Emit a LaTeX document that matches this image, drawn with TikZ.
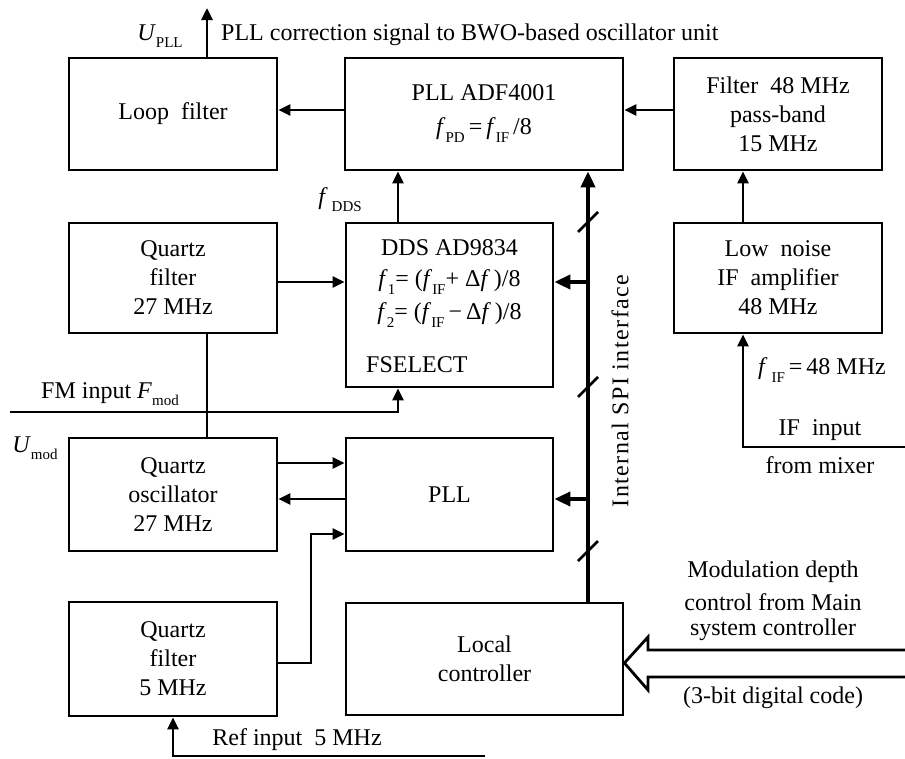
\documentclass[tikz,border=0pt]{standalone}
\usepackage{fontspec}
\setmainfont{Liberation Serif}
\usetikzlibrary{arrows.meta,calc}
\newcommand{\lsub}[1]{\raisebox{-0.3em}{\fontsize{15}{15}\selectfont #1}}
\begin{document}
\begin{tikzpicture}[x=1pt,y=-1pt,
  box/.style={draw, line width=2.8pt, rectangle, inner sep=0pt, align=center, font=\fontsize{24}{29}\selectfont},
  lbl/.style={font=\fontsize{24}{29}\selectfont, inner sep=0pt, align=center},
  conn/.style={line width=2.8pt, -{Triangle[length=12pt,width=11pt]}},
  plain/.style={line width=2.8pt},
  busarr/.style={line width=4.2pt, -{Triangle[length=16pt,width=14pt]}},
  slash/.style={line width=2.6pt}]
\useasboundingbox (0,0) rectangle (905,758);

% boxes
\node[box, minimum width=208pt, minimum height=112pt] (loop) at (173,114) {Loop\ \ filter};
\node[box, minimum width=278pt, minimum height=112pt] (adf) at (484,114) {};
\node[box, minimum width=208pt, minimum height=112pt] (filt) at (778,114) {Filter\ \ 48 MHz\\pass-band\\15 MHz};
\node[box, minimum width=208pt, minimum height=110pt] (qf27) at (173,278) {Quartz\\filter\\27 MHz};
\node[box, minimum width=207pt, minimum height=164pt] (dds) at (449.5,305) {};
\node[box, minimum width=208pt, minimum height=110pt] (lna) at (778,278) {Low\ \ noise\\IF\ \ amplifier\\48 MHz};
\node[box, minimum width=208pt, minimum height=113pt] (osc) at (173,494.5) {Quartz\\oscillator\\27 MHz};
\node[box, minimum width=207pt, minimum height=113pt] (pll) at (449.5,494.5) {PLL};
\node[box, minimum width=208pt, minimum height=114pt] (qf5) at (173,659) {Quartz\\filter\\5 MHz};
\node[box, minimum width=277pt, minimum height=112pt] (lc) at (484.5,659) {Local\\controller};

% texts inside ADF4001 and DDS
\node[lbl] (adft1) at (484,93) {PLL ADF4001};
\node[lbl] (adft2) at (484,130) {\textit{f}\lsub{PD}\,=\,\textit{f}\lsub{IF}\,/8};
\node[lbl] (ddst1) at (449.5,248) {DDS AD9834};
\node[lbl] (ddst2) at (449.5,282) {\textit{f}\lsub{1}= (\textit{f}\lsub{IF}+ Δ\textit{f}\,)/8};
\node[lbl] (ddst3) at (449.5,315) {\textit{f}\lsub{2}= (\textit{f}\lsub{IF}\,−\,Δ\textit{f}\,)/8};
\node[lbl, anchor=west] (ddst4) at (366,365) {FSELECT};

% outside labels
\node[lbl] (upll) at (160,36) {\textit{U}\lsub{PLL}};
\node[lbl, anchor=west] (corr) at (221,35) {PLL correction signal to BWO-based oscillator unit};
\node[lbl] (fdds) at (340,200) {\textit{f}\,\lsub{DDS}};
\node[lbl] (fif) at (822,370) {\textit{f}\,\lsub{IF}\,=\,48 MHz};
\node[lbl] (ifin) at (820,430) {IF\ \ input};
\node[lbl] (frmix) at (820,465) {from mixer};
\node[lbl] (fmin) at (110,394) {FM input \textit{F}\lsub{mod}};
\node[lbl] (umod) at (35,448) {\textit{U}\lsub{mod}};
\node[lbl] (refin) at (297,740) {Ref input\ \ 5 MHz};
\node[lbl] (mod1) at (773,572) {Modulation depth};
\node[lbl] (mod2) at (773,602) {control from Main};
\node[lbl] (mod3) at (773,630) {system controller};
\node[lbl] (mod4) at (773,698) {(3-bit digital code)};
\node[lbl, rotate=90, font=\fontsize{24}{29}\selectfont\addfontfeature{LetterSpace=6}] (spi) at (620,391) {Internal SPI interface};

% helper coordinates
\coordinate (cA) at (398,0);
\coordinate (cB) at (743,0);
\coordinate (cC) at (207,0);
\coordinate (cD) at (173,0);
\coordinate (cBus) at (588,0);
\coordinate (y110) at (0,110);
\coordinate (y282) at (0,282);
\coordinate (y463) at (0,463);
\coordinate (y499) at (0,499);
\coordinate (y534) at (0,534);
\coordinate (y663) at (0,663);
\coordinate (upEnd) at (207,8);
\coordinate (ifEnd) at (905,447);
\coordinate (fmEnd) at (10,412);
\coordinate (refEnd) at (485,756);
\coordinate (qbend) at (311,663);

% connectors
\draw[conn] (adf.west |- y110) -- (loop.east |- y110);
\draw[conn] (filt.west |- y110) -- (adf.east |- y110);
\draw[conn] (dds.north -| cA) -- (adf.south -| cA);
\draw[conn] (lna.north -| cB) -- (filt.south -| cB);
\draw[conn] (ifEnd) -| (lna.south -| cB);
\draw[conn] (qf27.east |- y282) -- (dds.west |- y282);
\draw[plain] (osc.north -| cC) -- (qf27.south -| cC);
\draw[conn] (fmEnd) -| (dds.south -| cA);
\draw[conn] (osc.east |- y463) -- (pll.west |- y463);
\draw[conn] (pll.west |- y499) -- (osc.east |- y499);
\draw[conn] (qf5.east |- y663) -- (qbend) |- (pll.west |- y534);
\draw[conn] (refEnd) -| (qf5.south -| cD);
\draw[conn] (loop.north -| cC) -- (upEnd);

% SPI bus
\draw[busarr] (lc.north -| cBus) -- (adf.south -| cBus);
\draw[busarr] (cBus |- y282) -- (dds.east |- y282);
\draw[busarr] (cBus |- y499) -- (pll.east |- y499);
\foreach \yy in {222,387,551}
  \draw[slash] (578,\yy+10) -- (598,\yy-10);

% hollow input arrow
\draw[line width=2.8pt, line join=miter]
  (905,650) -- (648,650) -- (648,637) -- ($(lc.east)+(0,4)$) -- (648,690) -- (648,677) -- (905,677);
\end{tikzpicture}
\end{document}
